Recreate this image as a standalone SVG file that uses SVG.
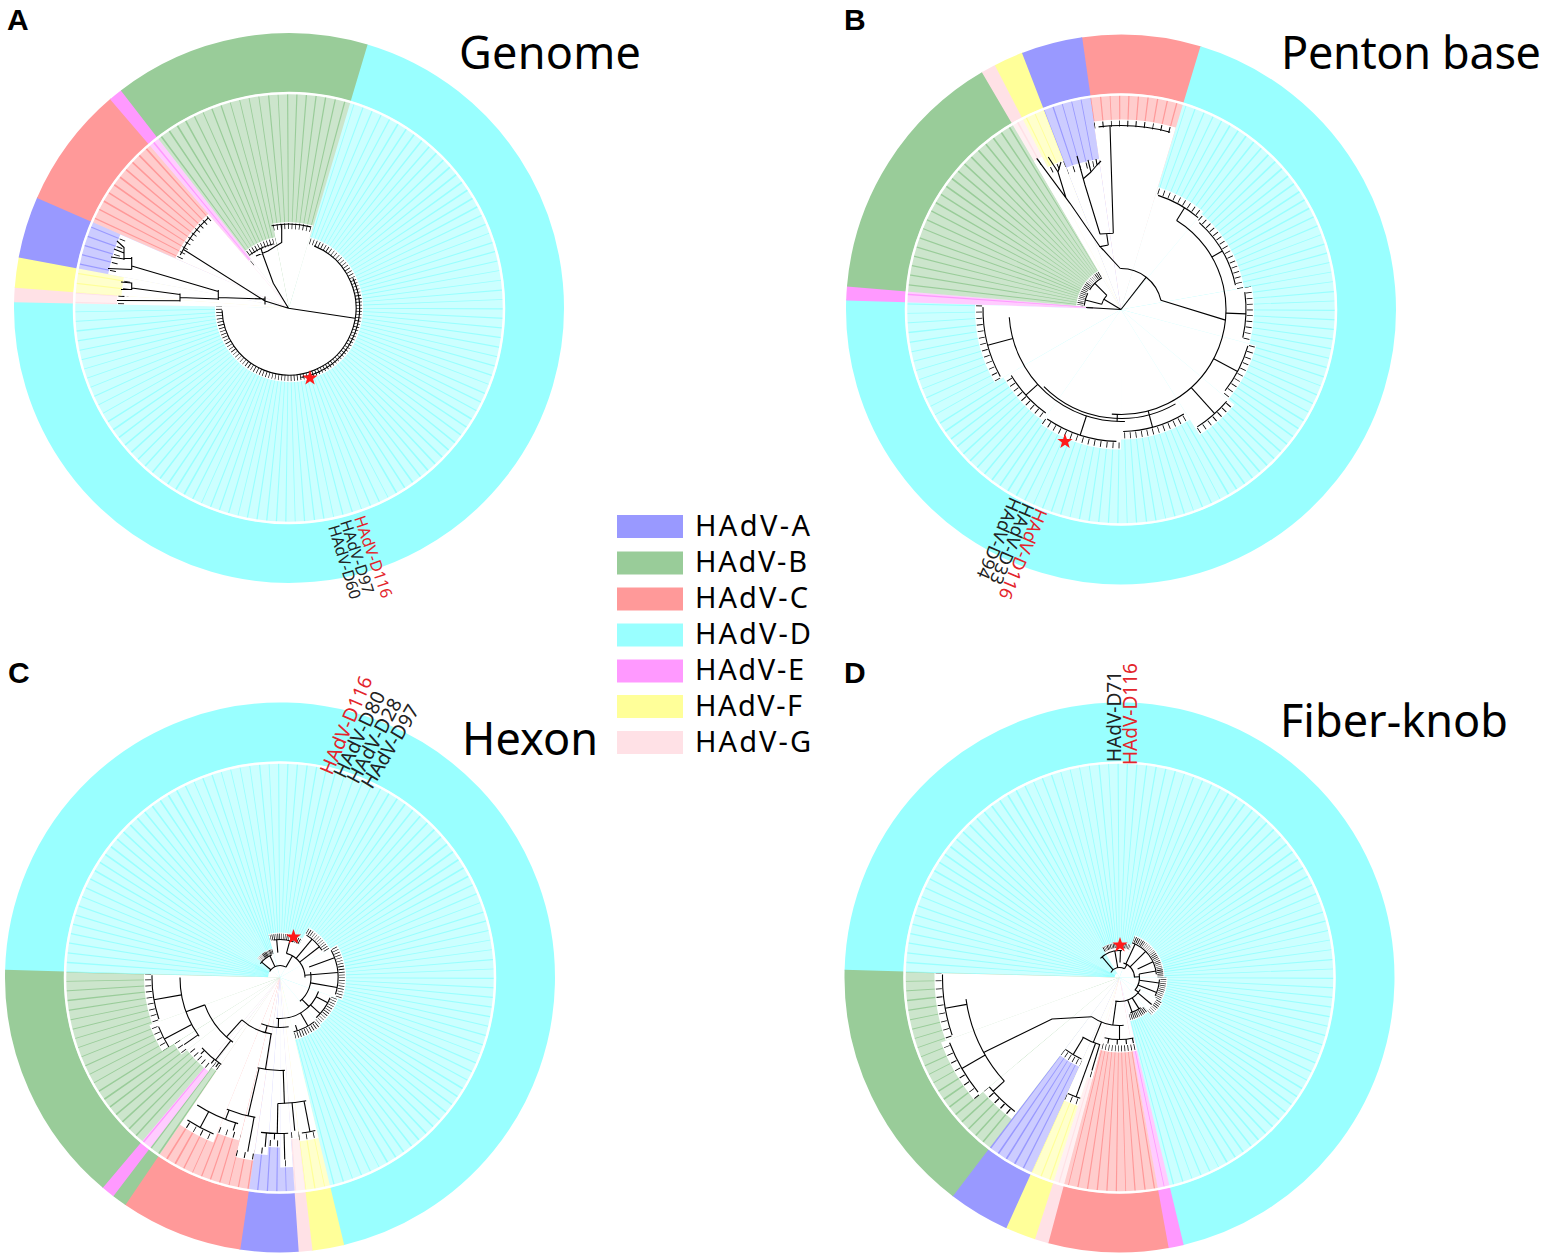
<svg xmlns="http://www.w3.org/2000/svg" xmlns:xlink="http://www.w3.org/1999/xlink" width="1548" height="1259" viewBox="0 0 1548 1259">
<style>
.rg{fill:none;stroke-width:60}
.lf{fill:none;stroke-width:216}
.ln{fill:none;stroke-width:216;stroke-dasharray:0.45 2.14}
.tk{fill:none;stroke:#000;stroke-width:216;stroke-dasharray:0.4 2.19}
.ho{fill:none;stroke:#fff}
.mk{fill:none;stroke:#fff;stroke-width:216}
.ma{fill:none;stroke:#fff;stroke-width:6}
.br{fill:none;stroke:#000;stroke-width:1.1}
.wc{fill:none;stroke:#fff;stroke-width:2.5}
.sA{stroke:#9999ff}.sB{stroke:#99cc99}.sC{stroke:#ff9999}.sD{stroke:#99ffff}.sE{stroke:#ff99ff}.sF{stroke:#ffff99}.sG{stroke:#ffe1e6}
.lA{stroke:#ccccff}.lB{stroke:#cce5cc}.lC{stroke:#ffcccc}.lD{stroke:#ccffff}.lE{stroke:#ffccff}.lF{stroke:#ffffcc}.lG{stroke:#fff0f2}
.pl{font-family:"Liberation Sans",Arial,sans-serif;font-weight:bold;font-size:30px;fill:#000}
.ti{font-family:"Noto Sans","DejaVu Sans",sans-serif;font-size:45px;fill:#000}
.lg{font-family:"Noto Sans","DejaVu Sans",sans-serif;font-size:29px;fill:#000}
.lb{font-family:"Noto Sans","DejaVu Sans",sans-serif;font-size:18px;fill:#222}
.rd{fill:#e3242b}
</style>
<defs>
<path id="star" d="M0,-8 L1.88,-2.59 L7.61,-2.47 L3.04,0.99 L4.7,6.47 L0,3.2 L-4.7,6.47 L-3.04,0.99 L-7.61,-2.47 L-1.88,-2.59 Z" fill="#ff1a1a"/>
<mask id="mAD" maskUnits="userSpaceOnUse" x="-300" y="-300" width="600" height="600"><circle r="108" class="mk" pathLength="360" stroke-dasharray="254.8 400" transform="rotate(-73.6)"/></mask>
<mask id="mAG" maskUnits="userSpaceOnUse" x="-300" y="-300" width="600" height="600"><circle r="108" class="mk" pathLength="360" stroke-dasharray="3 400" transform="rotate(181.2)"/></mask>
<mask id="mAF" maskUnits="userSpaceOnUse" x="-300" y="-300" width="600" height="600"><circle r="108" class="mk" pathLength="360" stroke-dasharray="6.4 400" transform="rotate(184.2)"/></mask>
<mask id="mAA" maskUnits="userSpaceOnUse" x="-300" y="-300" width="600" height="600"><circle r="108" class="mk" pathLength="360" stroke-dasharray="13 400" transform="rotate(190.6)"/></mask>
<mask id="mAC" maskUnits="userSpaceOnUse" x="-300" y="-300" width="600" height="600"><circle r="108" class="mk" pathLength="360" stroke-dasharray="25.8 400" transform="rotate(203.6)"/></mask>
<mask id="mAE" maskUnits="userSpaceOnUse" x="-300" y="-300" width="600" height="600"><circle r="108" class="mk" pathLength="360" stroke-dasharray="2.9 400" transform="rotate(229.4)"/></mask>
<mask id="mAB" maskUnits="userSpaceOnUse" x="-300" y="-300" width="600" height="600"><circle r="108" class="mk" pathLength="360" stroke-dasharray="54.1 400" transform="rotate(232.3)"/></mask>
<mask id="tA" maskUnits="userSpaceOnUse" x="-300" y="-300" width="600" height="600"><g class="ma">
<circle r="70" pathLength="360" stroke-dasharray="254.8 400" transform="rotate(-73.6)"/>
<circle r="168" pathLength="360" stroke-dasharray="3 400" transform="rotate(181.2)"/>
<circle r="164" pathLength="360" stroke-dasharray="6.4 400" transform="rotate(184.2)"/>
<circle r="180" pathLength="360" stroke-dasharray="13 400" transform="rotate(190.6)"/>
<circle r="120" pathLength="360" stroke-dasharray="25.8 400" transform="rotate(203.6)"/>
<circle r="58" pathLength="360" stroke-dasharray="2.9 400" transform="rotate(229.4)"/>
<circle r="68" pathLength="360" stroke-dasharray="26.7 400" transform="rotate(232.3)"/>
<circle r="82" pathLength="360" stroke-dasharray="27.4 400" transform="rotate(259)"/>
</g></mask>
<mask id="mBC" maskUnits="userSpaceOnUse" x="-300" y="-300" width="600" height="600"><circle r="108" class="mk" pathLength="360" stroke-dasharray="25.1 400" transform="rotate(-98.3)"/></mask>
<mask id="mBD" maskUnits="userSpaceOnUse" x="-300" y="-300" width="600" height="600"><circle r="108" class="mk" pathLength="360" stroke-dasharray="255.1 400" transform="rotate(-73.2)"/></mask>
<mask id="mBE" maskUnits="userSpaceOnUse" x="-300" y="-300" width="600" height="600"><circle r="108" class="mk" pathLength="360" stroke-dasharray="2.9 400" transform="rotate(181.9)"/></mask>
<mask id="mBB" maskUnits="userSpaceOnUse" x="-300" y="-300" width="600" height="600"><circle r="108" class="mk" pathLength="360" stroke-dasharray="54.8 400" transform="rotate(184.8)"/></mask>
<mask id="mBG" maskUnits="userSpaceOnUse" x="-300" y="-300" width="600" height="600"><circle r="108" class="mk" pathLength="360" stroke-dasharray="3.1 400" transform="rotate(239.6)"/></mask>
<mask id="mBF" maskUnits="userSpaceOnUse" x="-300" y="-300" width="600" height="600"><circle r="108" class="mk" pathLength="360" stroke-dasharray="6.2 400" transform="rotate(242.7)"/></mask>
<mask id="mBA" maskUnits="userSpaceOnUse" x="-300" y="-300" width="600" height="600"><circle r="108" class="mk" pathLength="360" stroke-dasharray="12.8 400" transform="rotate(248.9)"/></mask>
<mask id="tB" maskUnits="userSpaceOnUse" x="-300" y="-300" width="600" height="600"><g class="ma">
<circle r="186" pathLength="360" stroke-dasharray="25.1 400" transform="rotate(-98.3)"/>
<circle r="148" pathLength="360" stroke-dasharray="12.8 400" transform="rotate(248.9)"/>
<circle r="156" pathLength="360" stroke-dasharray="6.2 400" transform="rotate(242.7)"/>
<circle r="168" pathLength="360" stroke-dasharray="3.1 400" transform="rotate(239.6)"/>
<circle r="41" pathLength="360" stroke-dasharray="54.8 400" transform="rotate(184.8)"/>
<circle r="31" pathLength="360" stroke-dasharray="2.9 400" transform="rotate(181.9)"/>
<circle r="124" pathLength="360" stroke-dasharray="23.2 400" transform="rotate(-73.2)"/>
<circle r="121" pathLength="360" stroke-dasharray="40 400" transform="rotate(-50)"/>
<circle r="129" pathLength="360" stroke-dasharray="25 400" transform="rotate(-10)"/>
<circle r="136" pathLength="360" stroke-dasharray="25 400" transform="rotate(15)"/>
<circle r="144" pathLength="360" stroke-dasharray="18 400" transform="rotate(40)"/>
<circle r="126" pathLength="360" stroke-dasharray="32 400" transform="rotate(58)"/>
<circle r="136" pathLength="360" stroke-dasharray="35 400" transform="rotate(90)"/>
<circle r="132" pathLength="360" stroke-dasharray="25 400" transform="rotate(125)"/>
<circle r="142" pathLength="360" stroke-dasharray="31.9 400" transform="rotate(150)"/>
</g></mask>
<mask id="mCD" maskUnits="userSpaceOnUse" x="-300" y="-300" width="600" height="600"><circle r="108" class="mk" pathLength="360" stroke-dasharray="255.1 400" transform="rotate(181.4)"/></mask>
<mask id="mCF" maskUnits="userSpaceOnUse" x="-300" y="-300" width="600" height="600"><circle r="108" class="mk" pathLength="360" stroke-dasharray="6.7 400" transform="rotate(76.5)"/></mask>
<mask id="mCG" maskUnits="userSpaceOnUse" x="-300" y="-300" width="600" height="600"><circle r="108" class="mk" pathLength="360" stroke-dasharray="2.9 400" transform="rotate(83.2)"/></mask>
<mask id="mCA" maskUnits="userSpaceOnUse" x="-300" y="-300" width="600" height="600"><circle r="108" class="mk" pathLength="360" stroke-dasharray="12.2 400" transform="rotate(86.1)"/></mask>
<mask id="mCC" maskUnits="userSpaceOnUse" x="-300" y="-300" width="600" height="600"><circle r="108" class="mk" pathLength="360" stroke-dasharray="25.9 400" transform="rotate(98.3)"/></mask>
<mask id="mCE" maskUnits="userSpaceOnUse" x="-300" y="-300" width="600" height="600"><circle r="108" class="mk" pathLength="360" stroke-dasharray="2.8 400" transform="rotate(127.3)"/></mask>
<mask id="mCB" maskUnits="userSpaceOnUse" x="-300" y="-300" width="600" height="600"><circle r="108" class="mk" pathLength="360" stroke-dasharray="3.1 400" transform="rotate(124.2)"/><circle r="108" class="mk" pathLength="360" stroke-dasharray="51.3 400" transform="rotate(130.1)"/></mask>
<mask id="tC" maskUnits="userSpaceOnUse" x="-300" y="-300" width="600" height="600"><g class="ma">
<circle r="27" stroke-width="5" pathLength="360" stroke-dasharray="35 400" transform="rotate(220)"/>
<circle r="41" pathLength="360" stroke-dasharray="45 400" transform="rotate(255)"/>
<circle r="54" pathLength="360" stroke-dasharray="30 400" transform="rotate(300)"/>
<circle r="62" pathLength="360" stroke-dasharray="50 400" transform="rotate(330)"/>
<circle r="58" pathLength="360" stroke-dasharray="30 400" transform="rotate(20)"/>
<circle r="60" pathLength="360" stroke-dasharray="26.5 400" transform="rotate(50)"/>
<circle r="161" pathLength="360" stroke-dasharray="6.7 400" transform="rotate(76.5)"/>
<circle r="158" pathLength="360" stroke-dasharray="2.9 400" transform="rotate(83.2)"/>
<circle r="186" pathLength="360" stroke-dasharray="3.9 400" transform="rotate(86.1)"/>
<circle r="166" pathLength="360" stroke-dasharray="4 400" transform="rotate(90)"/>
<circle r="174" pathLength="360" stroke-dasharray="4.3 400" transform="rotate(94)"/>
<circle r="181" pathLength="360" stroke-dasharray="5.7 400" transform="rotate(98.3)"/>
<circle r="164" pathLength="360" stroke-dasharray="8 400" transform="rotate(104)"/>
<circle r="174" pathLength="360" stroke-dasharray="12.2 400" transform="rotate(112)"/>
<circle r="109" pathLength="360" stroke-dasharray="3.1 400" transform="rotate(124.2)"/>
<circle r="114" pathLength="360" stroke-dasharray="2.8 400" transform="rotate(127.3)"/>
<circle r="114" pathLength="360" stroke-dasharray="11.9 400" transform="rotate(130.1)"/>
<circle r="121" pathLength="360" stroke-dasharray="6 400" transform="rotate(142)"/>
<circle r="135" pathLength="360" stroke-dasharray="12 400" transform="rotate(148)"/>
<circle r="132" pathLength="360" stroke-dasharray="21.4 400" transform="rotate(160)"/>
</g></mask>
<mask id="mDD" maskUnits="userSpaceOnUse" x="-300" y="-300" width="600" height="600"><circle r="108" class="mk" pathLength="360" stroke-dasharray="255.1 400" transform="rotate(181.4)"/></mask>
<mask id="mDE" maskUnits="userSpaceOnUse" x="-300" y="-300" width="600" height="600"><circle r="108" class="mk" pathLength="360" stroke-dasharray="3.2 400" transform="rotate(76.5)"/></mask>
<mask id="mDC" maskUnits="userSpaceOnUse" x="-300" y="-300" width="600" height="600"><circle r="108" class="mk" pathLength="360" stroke-dasharray="25.3 400" transform="rotate(79.7)"/></mask>
<mask id="mDG" maskUnits="userSpaceOnUse" x="-300" y="-300" width="600" height="600"><circle r="108" class="mk" pathLength="360" stroke-dasharray="2.9 400" transform="rotate(105)"/></mask>
<mask id="mDF" maskUnits="userSpaceOnUse" x="-300" y="-300" width="600" height="600"><circle r="108" class="mk" pathLength="360" stroke-dasharray="6.4 400" transform="rotate(107.9)"/></mask>
<mask id="mDA" maskUnits="userSpaceOnUse" x="-300" y="-300" width="600" height="600"><circle r="108" class="mk" pathLength="360" stroke-dasharray="13 400" transform="rotate(114.3)"/></mask>
<mask id="mDB" maskUnits="userSpaceOnUse" x="-300" y="-300" width="600" height="600"><circle r="108" class="mk" pathLength="360" stroke-dasharray="54.1 400" transform="rotate(127.3)"/></mask>
<mask id="tD" maskUnits="userSpaceOnUse" x="-300" y="-300" width="600" height="600"><g class="ma">
<circle r="32" stroke-width="5" pathLength="360" stroke-dasharray="50 400" transform="rotate(240)"/>
<circle r="41" pathLength="360" stroke-dasharray="70 400" transform="rotate(290)"/>
<circle r="44" pathLength="360" stroke-dasharray="30 400" transform="rotate(0)"/>
<circle r="46" pathLength="360" stroke-dasharray="20 400" transform="rotate(30)"/>
<circle r="41" pathLength="360" stroke-dasharray="26.5 400" transform="rotate(50)"/>
<circle r="71" pathLength="360" stroke-dasharray="3.2 400" transform="rotate(76.5)"/>
<circle r="71" pathLength="360" stroke-dasharray="25.3 400" transform="rotate(79.7)"/>
<circle r="101" pathLength="360" stroke-dasharray="2.9 400" transform="rotate(105)"/>
<circle r="131" pathLength="360" stroke-dasharray="6.4 400" transform="rotate(107.9)"/>
<circle r="94" pathLength="360" stroke-dasharray="13 400" transform="rotate(114.3)"/>
<circle r="174" pathLength="360" stroke-dasharray="12.7 400" transform="rotate(127.3)"/>
<circle r="186" pathLength="360" stroke-dasharray="20 400" transform="rotate(140)"/>
<circle r="181" pathLength="360" stroke-dasharray="21.4 400" transform="rotate(160)"/>
</g></mask>
</defs>
<rect x="0" y="0" width="1548" height="1259" fill="#fff"/>

<g id="panel-A">
<g transform="translate(289,308)">
<g id="A-ring">
<circle r="245" class="rg sD" pathLength="360" stroke-dasharray="255 400" transform="rotate(-73.6)"/>
<circle r="245" class="rg sG" pathLength="360" stroke-dasharray="3.2 400" transform="rotate(181.2)"/>
<circle r="245" class="rg sF" pathLength="360" stroke-dasharray="6.6 400" transform="rotate(184.2)"/>
<circle r="245" class="rg sA" pathLength="360" stroke-dasharray="13.2 400" transform="rotate(190.6)"/>
<circle r="245" class="rg sC" pathLength="360" stroke-dasharray="26 400" transform="rotate(203.6)"/>
<circle r="245" class="rg sE" pathLength="360" stroke-dasharray="3.1 400" transform="rotate(229.4)"/>
<circle r="245" class="rg sB" pathLength="360" stroke-dasharray="54.3 400" transform="rotate(232.3)"/>
</g>
<g id="A-light">
<circle r="108" class="lf lD" pathLength="360" stroke-dasharray="255 400" transform="rotate(-73.6)"/>
<circle r="108" class="lf lG" pathLength="360" stroke-dasharray="3.2 400" transform="rotate(181.2)"/>
<circle r="108" class="lf lF" pathLength="360" stroke-dasharray="6.6 400" transform="rotate(184.2)"/>
<circle r="108" class="lf lA" pathLength="360" stroke-dasharray="13.2 400" transform="rotate(190.6)"/>
<circle r="108" class="lf lC" pathLength="360" stroke-dasharray="26 400" transform="rotate(203.6)"/>
<circle r="108" class="lf lE" pathLength="360" stroke-dasharray="3.1 400" transform="rotate(229.4)"/>
<circle r="108" class="lf lB" pathLength="360" stroke-dasharray="54.3 400" transform="rotate(232.3)"/>
</g>
<g id="A-leaflines">
<circle r="108" class="ln sD" pathLength="360" mask="url(#mAD)"/>
<circle r="108" class="ln sG" pathLength="360" mask="url(#mAG)"/>
<circle r="108" class="ln sF" pathLength="360" mask="url(#mAF)"/>
<circle r="108" class="ln sA" pathLength="360" mask="url(#mAA)"/>
<circle r="108" class="ln sC" pathLength="360" mask="url(#mAC)"/>
<circle r="108" class="ln sE" pathLength="360" mask="url(#mAE)"/>
<circle r="108" class="ln sB" pathLength="360" mask="url(#mAB)"/>
</g>
<g id="A-holes" class="ho">
<circle r="37" stroke-width="74" pathLength="360" stroke-dasharray="254.8 400" transform="rotate(-73.6)"/>
<circle r="86" stroke-width="172" pathLength="360" stroke-dasharray="3 400" transform="rotate(181.2)"/>
<circle r="84" stroke-width="168" pathLength="360" stroke-dasharray="6.4 400" transform="rotate(184.2)"/>
<circle r="92" stroke-width="184" pathLength="360" stroke-dasharray="13 400" transform="rotate(190.6)"/>
<circle r="62" stroke-width="124" pathLength="360" stroke-dasharray="25.8 400" transform="rotate(203.6)"/>
<circle r="31" stroke-width="62" pathLength="360" stroke-dasharray="2.9 400" transform="rotate(229.4)"/>
<circle r="36" stroke-width="72" pathLength="360" stroke-dasharray="26.7 400" transform="rotate(232.3)"/>
<circle r="43" stroke-width="86" pathLength="360" stroke-dasharray="27.4 400" transform="rotate(259)"/>
</g>
<circle r="215" class="wc"/>
<circle r="108" class="tk" pathLength="360" mask="url(#tA)"/>
<g id="A-tree-arcs" class="br">
<circle r="67" pathLength="360" stroke-dasharray="246 400" transform="rotate(-68)"/>
<circle r="70.5" pathLength="360" stroke-dasharray="105 400" transform="rotate(-25)"/>
<circle r="121" pathLength="360" stroke-dasharray="22 400" transform="rotate(206)"/>
<circle r="84" pathLength="360" stroke-dasharray="27 400" transform="rotate(258)"/>
<circle r="66" pathLength="360" stroke-dasharray="22 400" transform="rotate(234)"/>
</g>
</g>
<path id="A-tree" class="br" d="M288.5,308.3 L355,318.3 M288.5,308.3 L265,301 M265,296.5 V304.5 M265,301 L183.5,249.5 M265,299 L218.3,297.5 M218.3,290 V300 M218.3,291.5 L131.7,266 M218.3,299 L180,297.5 M180,293.5 V301.5 M180,294.5 L131.7,288 M131.7,282.5 V290 M131.7,283 L121,282 M131.7,289.5 L121,289.5 M180,300.7 L117,300.5 M131.7,257 V269.5 M131.7,269.5 L108,268.5 M131.7,258.5 L124,258.5 M124,247 V260 M124,259 L111,257 M124,253 L114,249 M124,247.5 L117,241 M288.5,308.3 L273.3,283.3 L262.7,254.3 M256,256 L268,251 L281.7,242.5 V224.5 M262.7,254.3 L261,248.2"/>
<use href="#star" xlink:href="#star" x="310" y="378"/>
<text class="pl" x="7" y="30">A</text>
<text class="ti" x="459" y="69" textLength="182">Genome</text>
<text class="lb rd" style="font-size:16px" transform="translate(354,518) rotate(71)">HAdV-D116</text>
<text class="lb" style="font-size:16px" transform="translate(340,522) rotate(72)">HAdV-D97</text>
<text class="lb" style="font-size:16px" transform="translate(328,527) rotate(73)">HAdV-D60</text>
</g>

<g id="panel-B">
<g transform="translate(1121,309.5)">
<g id="B-ring">
<circle r="245" class="rg sC" pathLength="360" stroke-dasharray="25.3 400" transform="rotate(-98.3)"/>
<circle r="245" class="rg sD" pathLength="360" stroke-dasharray="255.3 400" transform="rotate(-73.2)"/>
<circle r="245" class="rg sE" pathLength="360" stroke-dasharray="3.1 400" transform="rotate(181.9)"/>
<circle r="245" class="rg sB" pathLength="360" stroke-dasharray="55 400" transform="rotate(184.8)"/>
<circle r="245" class="rg sG" pathLength="360" stroke-dasharray="3.3 400" transform="rotate(239.6)"/>
<circle r="245" class="rg sF" pathLength="360" stroke-dasharray="6.4 400" transform="rotate(242.7)"/>
<circle r="245" class="rg sA" pathLength="360" stroke-dasharray="13 400" transform="rotate(248.9)"/>
</g>
<g id="B-light">
<circle r="108" class="lf lC" pathLength="360" stroke-dasharray="25.3 400" transform="rotate(-98.3)"/>
<circle r="108" class="lf lD" pathLength="360" stroke-dasharray="255.3 400" transform="rotate(-73.2)"/>
<circle r="108" class="lf lE" pathLength="360" stroke-dasharray="3.1 400" transform="rotate(181.9)"/>
<circle r="108" class="lf lB" pathLength="360" stroke-dasharray="55 400" transform="rotate(184.8)"/>
<circle r="108" class="lf lG" pathLength="360" stroke-dasharray="3.3 400" transform="rotate(239.6)"/>
<circle r="108" class="lf lF" pathLength="360" stroke-dasharray="6.4 400" transform="rotate(242.7)"/>
<circle r="108" class="lf lA" pathLength="360" stroke-dasharray="13 400" transform="rotate(248.9)"/>
</g>
<g id="B-leaflines">
<circle r="108" class="ln sC" pathLength="360" mask="url(#mBC)"/>
<circle r="108" class="ln sD" pathLength="360" mask="url(#mBD)"/>
<circle r="108" class="ln sE" pathLength="360" mask="url(#mBE)"/>
<circle r="108" class="ln sB" pathLength="360" mask="url(#mBB)"/>
<circle r="108" class="ln sG" pathLength="360" mask="url(#mBG)"/>
<circle r="108" class="ln sF" pathLength="360" mask="url(#mBF)"/>
<circle r="108" class="ln sA" pathLength="360" mask="url(#mBA)"/>
</g>
<g id="B-holes" class="ho">
<circle r="95" stroke-width="190" pathLength="360" stroke-dasharray="25.1 400" transform="rotate(-98.3)"/>
<circle r="76" stroke-width="152" pathLength="360" stroke-dasharray="12.8 400" transform="rotate(248.9)"/>
<circle r="80" stroke-width="160" pathLength="360" stroke-dasharray="6.2 400" transform="rotate(242.7)"/>
<circle r="86" stroke-width="172" pathLength="360" stroke-dasharray="3.1 400" transform="rotate(239.6)"/>
<circle r="22.5" stroke-width="45" pathLength="360" stroke-dasharray="54.8 400" transform="rotate(184.8)"/>
<circle r="17.5" stroke-width="35" pathLength="360" stroke-dasharray="2.9 400" transform="rotate(181.9)"/>
<circle r="64" stroke-width="128" pathLength="360" stroke-dasharray="23.2 400" transform="rotate(-73.2)"/>
<circle r="62.5" stroke-width="125" pathLength="360" stroke-dasharray="40 400" transform="rotate(-50)"/>
<circle r="66.5" stroke-width="133" pathLength="360" stroke-dasharray="25 400" transform="rotate(-10)"/>
<circle r="70" stroke-width="140" pathLength="360" stroke-dasharray="25 400" transform="rotate(15)"/>
<circle r="74" stroke-width="148" pathLength="360" stroke-dasharray="18 400" transform="rotate(40)"/>
<circle r="65" stroke-width="130" pathLength="360" stroke-dasharray="32 400" transform="rotate(58)"/>
<circle r="70" stroke-width="140" pathLength="360" stroke-dasharray="35 400" transform="rotate(90)"/>
<circle r="68" stroke-width="136" pathLength="360" stroke-dasharray="25 400" transform="rotate(125)"/>
<circle r="73" stroke-width="146" pathLength="360" stroke-dasharray="31.9 400" transform="rotate(150)"/>
</g>
<circle r="215" class="wc"/>
<circle r="108" class="tk" pathLength="360" mask="url(#tB)"/>
<g id="B-tree-polar" class="br">
<line x2="41" transform="rotate(-52)"/>
<circle r="41" pathLength="360" stroke-dasharray="78 400" transform="rotate(-91)"/>
<circle r="184" pathLength="360" stroke-dasharray="22.5 400" transform="rotate(-97)"/>
<circle r="105" pathLength="360" stroke-dasharray="153 400" transform="rotate(-58)"/>
<line x1="105" x2="120" transform="rotate(-58)"/>
<circle r="120" pathLength="360" stroke-dasharray="22 400" transform="rotate(-72)"/>
<line x1="105" x2="117" transform="rotate(-30)"/>
<circle r="117" pathLength="360" stroke-dasharray="36 400" transform="rotate(-48)"/>
<line x1="105" x2="125" transform="rotate(2)"/>
<circle r="125" pathLength="360" stroke-dasharray="21 400" transform="rotate(-8)"/>
<line x1="105" x2="132" transform="rotate(28)"/>
<circle r="132" pathLength="360" stroke-dasharray="22 400" transform="rotate(16)"/>
<line x1="105" x2="140" transform="rotate(48)"/>
<circle r="140" pathLength="360" stroke-dasharray="16 400" transform="rotate(41)"/>
<line x1="105" x2="122" transform="rotate(75)"/>
<circle r="122" pathLength="360" stroke-dasharray="30 400" transform="rotate(59)"/>
<line x1="105" x2="112" transform="rotate(92)"/>
<circle r="112" pathLength="360" stroke-dasharray="88 400" transform="rotate(88)"/>
<circle r="109" pathLength="360" stroke-dasharray="75 400" transform="rotate(60)"/>
<line x1="112" x2="132" transform="rotate(108)"/>
<circle r="132" pathLength="360" stroke-dasharray="32 400" transform="rotate(92)"/>
<line x1="112" x2="128" transform="rotate(138)"/>
<circle r="128" pathLength="360" stroke-dasharray="23 400" transform="rotate(126)"/>
<line x1="112" x2="138" transform="rotate(165)"/>
<circle r="138" pathLength="360" stroke-dasharray="30 400" transform="rotate(151)"/>
<line x2="20" transform="rotate(211)"/>
<circle r="20" pathLength="360" stroke-dasharray="30 400" transform="rotate(195)"/>
<line x1="20" x2="37" transform="rotate(195)"/>
<circle r="37" pathLength="360" stroke-dasharray="20 400" transform="rotate(186)"/>
<line x1="20" x2="37" transform="rotate(225)"/>
<circle r="37" pathLength="360" stroke-dasharray="27 400" transform="rotate(212)"/>
<line x2="35" transform="rotate(183.3)"/>
</g>
</g>
<path id="B-tree" class="br" d="M1120.3,268.5 L1103.3,250 L1100,246.7 L1108.3,245 M1100,246.7 L1070,203.3 M1108.3,245 L1106.7,234 M1100,234 L1113.3,233.3 M1100,234 L1085,185 M1113.3,233.3 L1110,125.8 M1085,185 L1077,156 M1083,179 L1091,172 M1091,172 L1088,160 M1091,172 L1097,165 M1097,165 L1096,159 M1097,165 L1101,161 M1070,203.3 L1036.7,158.3 M1066,198 L1058,172 M1058,172 L1048.3,157 M1058,172 L1061,162 M1160.9,300.3 L1225.5,320.1"/>
<use href="#star" xlink:href="#star" x="1065" y="441.5"/>
<text class="pl" x="844" y="30">B</text>
<text class="ti" x="1281" y="69" textLength="260">Penton base</text>
<text class="lb rd" transform="translate(1036,507) rotate(113)">HAdV-D116</text>
<text class="lb" transform="translate(1023,501.5) rotate(113)">HAdV-D33</text>
<text class="lb" transform="translate(1010,496) rotate(113)">HAdV-D94</text>
</g>

<g id="panel-C">
<g transform="translate(280,977.5)">
<g id="C-ring">
<circle r="245" class="rg sD" pathLength="360" stroke-dasharray="255.3 400" transform="rotate(181.4)"/>
<circle r="245" class="rg sF" pathLength="360" stroke-dasharray="6.9 400" transform="rotate(76.5)"/>
<circle r="245" class="rg sG" pathLength="360" stroke-dasharray="3.1 400" transform="rotate(83.2)"/>
<circle r="245" class="rg sA" pathLength="360" stroke-dasharray="12.4 400" transform="rotate(86.1)"/>
<circle r="245" class="rg sC" pathLength="360" stroke-dasharray="26.1 400" transform="rotate(98.3)"/>
<circle r="245" class="rg sB" pathLength="360" stroke-dasharray="3.3 400" transform="rotate(124.2)"/>
<circle r="245" class="rg sE" pathLength="360" stroke-dasharray="3 400" transform="rotate(127.3)"/>
<circle r="245" class="rg sB" pathLength="360" stroke-dasharray="51.5 400" transform="rotate(130.1)"/>
</g>
<g id="C-light">
<circle r="108" class="lf lD" pathLength="360" stroke-dasharray="255.3 400" transform="rotate(181.4)"/>
<circle r="108" class="lf lF" pathLength="360" stroke-dasharray="6.9 400" transform="rotate(76.5)"/>
<circle r="108" class="lf lG" pathLength="360" stroke-dasharray="3.1 400" transform="rotate(83.2)"/>
<circle r="108" class="lf lA" pathLength="360" stroke-dasharray="12.4 400" transform="rotate(86.1)"/>
<circle r="108" class="lf lC" pathLength="360" stroke-dasharray="26.1 400" transform="rotate(98.3)"/>
<circle r="108" class="lf lB" pathLength="360" stroke-dasharray="3.3 400" transform="rotate(124.2)"/>
<circle r="108" class="lf lE" pathLength="360" stroke-dasharray="3 400" transform="rotate(127.3)"/>
<circle r="108" class="lf lB" pathLength="360" stroke-dasharray="51.5 400" transform="rotate(130.1)"/>
</g>
<g id="C-leaflines">
<circle r="108" class="ln sD" pathLength="360" mask="url(#mCD)"/>
<circle r="108" class="ln sF" pathLength="360" mask="url(#mCF)"/>
<circle r="108" class="ln sG" pathLength="360" mask="url(#mCG)"/>
<circle r="108" class="ln sA" pathLength="360" mask="url(#mCA)"/>
<circle r="108" class="ln sC" pathLength="360" mask="url(#mCC)"/>
<circle r="108" class="ln sE" pathLength="360" mask="url(#mCE)"/>
<circle r="108" class="ln sB" pathLength="360" mask="url(#mCB)"/>
</g>
<g id="C-holes" class="ho">
<circle r="6" stroke-width="12" pathLength="360" stroke-dasharray="38.6 400" transform="rotate(181.4)"/>
<circle r="15" stroke-width="30" pathLength="360" stroke-dasharray="35 400" transform="rotate(220)"/>
<circle r="22.5" stroke-width="45" pathLength="360" stroke-dasharray="45 400" transform="rotate(255)"/>
<circle r="29" stroke-width="58" pathLength="360" stroke-dasharray="30 400" transform="rotate(300)"/>
<circle r="33" stroke-width="66" pathLength="360" stroke-dasharray="50 400" transform="rotate(330)"/>
<circle r="31" stroke-width="62" pathLength="360" stroke-dasharray="30 400" transform="rotate(20)"/>
<circle r="32" stroke-width="64" pathLength="360" stroke-dasharray="26.5 400" transform="rotate(50)"/>
<circle r="82.5" stroke-width="165" pathLength="360" stroke-dasharray="6.7 400" transform="rotate(76.5)"/>
<circle r="81" stroke-width="162" pathLength="360" stroke-dasharray="2.9 400" transform="rotate(83.2)"/>
<circle r="95" stroke-width="190" pathLength="360" stroke-dasharray="3.9 400" transform="rotate(86.1)"/>
<circle r="85" stroke-width="170" pathLength="360" stroke-dasharray="4 400" transform="rotate(90)"/>
<circle r="89" stroke-width="178" pathLength="360" stroke-dasharray="4.3 400" transform="rotate(94)"/>
<circle r="92.5" stroke-width="185" pathLength="360" stroke-dasharray="5.7 400" transform="rotate(98.3)"/>
<circle r="84" stroke-width="168" pathLength="360" stroke-dasharray="8 400" transform="rotate(104)"/>
<circle r="89" stroke-width="178" pathLength="360" stroke-dasharray="12.2 400" transform="rotate(112)"/>
<circle r="56.5" stroke-width="113" pathLength="360" stroke-dasharray="3.1 400" transform="rotate(124.2)"/>
<circle r="59" stroke-width="118" pathLength="360" stroke-dasharray="2.8 400" transform="rotate(127.3)"/>
<circle r="59" stroke-width="118" pathLength="360" stroke-dasharray="11.9 400" transform="rotate(130.1)"/>
<circle r="62.5" stroke-width="125" pathLength="360" stroke-dasharray="6 400" transform="rotate(142)"/>
<circle r="69.5" stroke-width="139" pathLength="360" stroke-dasharray="12 400" transform="rotate(148)"/>
<circle r="68" stroke-width="136" pathLength="360" stroke-dasharray="21.4 400" transform="rotate(160)"/>
</g>
<circle r="215" class="wc"/>
<circle r="108" class="tk" pathLength="360" mask="url(#tC)"/>
<g id="C-tree" class="br">
<circle r="12" pathLength="360" stroke-dasharray="90 400" transform="rotate(-150)"/>
<line x1="12" x2="25" transform="rotate(-60)"/>
<circle r="25" pathLength="360" stroke-dasharray="75 400" transform="rotate(-75)"/>
<line x1="25" x2="31" transform="rotate(-5)"/>
<circle r="31" pathLength="360" stroke-dasharray="60 400" transform="rotate(-10)"/>
<line x1="31" x2="41" transform="rotate(45)"/>
<circle r="41" pathLength="360" stroke-dasharray="75 400" transform="rotate(20)"/>
<line x1="41" x2="50" transform="rotate(92)"/>
<circle r="50" pathLength="360" stroke-dasharray="32 400" transform="rotate(80)"/>
<line x1="50" x2="57" transform="rotate(105)"/>
<circle r="57" pathLength="360" stroke-dasharray="34 400" transform="rotate(98)"/>
<line x1="12" x2="24" transform="rotate(-140)"/>
<line x1="12" x2="24" transform="rotate(-115)"/>
<circle r="24" pathLength="360" stroke-dasharray="35 400" transform="rotate(-145)"/>
<line x1="25" x2="38" transform="rotate(-95)"/>
<line x1="25" x2="38" transform="rotate(-75)"/>
<circle r="38" pathLength="360" stroke-dasharray="30 400" transform="rotate(-100)"/>
<line x1="25" x2="50" transform="rotate(-50)"/>
<line x1="25" x2="50" transform="rotate(-38)"/>
<circle r="50" pathLength="360" stroke-dasharray="25 400" transform="rotate(-58)"/>
<line x1="31" x2="58" transform="rotate(-20)"/>
<line x1="31" x2="58" transform="rotate(-5)"/>
<line x1="31" x2="58" transform="rotate(10)"/>
<circle r="58" pathLength="360" stroke-dasharray="45 400" transform="rotate(-28)"/>
<line x1="41" x2="54" transform="rotate(28)"/>
<line x1="41" x2="54" transform="rotate(42)"/>
<circle r="54" pathLength="360" stroke-dasharray="26 400" transform="rotate(22)"/>
<line x1="41" x2="56" transform="rotate(60)"/>
<line x1="50" x2="56" transform="rotate(72)"/>
<circle r="56" pathLength="360" stroke-dasharray="24 400" transform="rotate(52)"/>
<line x1="57" x2="93" transform="rotate(99)"/>
<circle r="93" pathLength="360" stroke-dasharray="17 400" transform="rotate(87)"/>
<line x1="93" x2="142" transform="rotate(103)"/>
<circle r="142" pathLength="360" stroke-dasharray="12 400" transform="rotate(100)"/>
<line x1="142" x2="177" transform="rotate(100.5)"/>
<line x1="142" x2="152" transform="rotate(111)"/>
<circle r="152" pathLength="360" stroke-dasharray="17 400" transform="rotate(106)"/>
<line x1="152" x2="160" transform="rotate(107)"/>
<line x1="152" x2="170" transform="rotate(118)"/>
<circle r="170" pathLength="360" stroke-dasharray="10 400" transform="rotate(113)"/>
<line x1="93" x2="126" transform="rotate(88)"/>
<circle r="126" pathLength="360" stroke-dasharray="13 400" transform="rotate(78)"/>
<line x1="126" x2="156" transform="rotate(91)"/>
<circle r="156" pathLength="360" stroke-dasharray="10 400" transform="rotate(87)"/>
<line x1="156" x2="182" transform="rotate(88.5)"/>
<line x1="156" x2="170" transform="rotate(95)"/>
<line x1="156" x2="162" transform="rotate(92)"/>
<line x1="126" x2="157" transform="rotate(79)"/>
<circle r="157" pathLength="360" stroke-dasharray="5 400" transform="rotate(77)"/>
<line x1="126" x2="154" transform="rotate(84.5)"/>
<line x1="57" x2="80" transform="rotate(132)"/>
<circle r="80" pathLength="360" stroke-dasharray="34 400" transform="rotate(126)"/>
<line x1="80" x2="105" transform="rotate(128)"/>
<circle r="105" pathLength="360" stroke-dasharray="14 400" transform="rotate(124)"/>
<line x1="105" x2="110" transform="rotate(125.7)"/>
<line x1="105" x2="110" transform="rotate(128.7)"/>
<line x1="105" x2="110" transform="rotate(136)"/>
<line x1="80" x2="100" transform="rotate(160)"/>
<circle r="100" pathLength="360" stroke-dasharray="36 400" transform="rotate(144)"/>
<line x1="100" x2="117" transform="rotate(145)"/>
<line x1="100" x2="131" transform="rotate(152)"/>
<circle r="131" pathLength="360" stroke-dasharray="10 400" transform="rotate(148)"/>
<line x1="100" x2="128" transform="rotate(170)"/>
<circle r="128" pathLength="360" stroke-dasharray="20 400" transform="rotate(161)"/>
</g>
</g>
<use href="#star" xlink:href="#star" x="293.5" y="937"/>
<text class="pl" x="8" y="683">C</text>
<text class="ti" x="462" y="755" textLength="136">Hexon</text>
<text class="lb rd" style="font-size:19.5px" transform="translate(332,776) rotate(-67)">HAdV-D116</text>
<text class="lb" style="font-size:19.5px" transform="translate(345,779.5) rotate(-64)">HAdV-D80</text>
<text class="lb" style="font-size:19.5px" transform="translate(358,785) rotate(-61.5)">HAdV-D28</text>
<text class="lb" style="font-size:19.5px" transform="translate(372,790) rotate(-59)">HAdV-D97</text>
</g>

<g id="panel-D">
<g transform="translate(1119.5,977.5)">
<g id="D-ring">
<circle r="245" class="rg sD" pathLength="360" stroke-dasharray="255.3 400" transform="rotate(181.4)"/>
<circle r="245" class="rg sE" pathLength="360" stroke-dasharray="3.4 400" transform="rotate(76.5)"/>
<circle r="245" class="rg sC" pathLength="360" stroke-dasharray="25.5 400" transform="rotate(79.7)"/>
<circle r="245" class="rg sG" pathLength="360" stroke-dasharray="3.1 400" transform="rotate(105)"/>
<circle r="245" class="rg sF" pathLength="360" stroke-dasharray="6.6 400" transform="rotate(107.9)"/>
<circle r="245" class="rg sA" pathLength="360" stroke-dasharray="13.2 400" transform="rotate(114.3)"/>
<circle r="245" class="rg sB" pathLength="360" stroke-dasharray="54.3 400" transform="rotate(127.3)"/>
</g>
<g id="D-light">
<circle r="108" class="lf lD" pathLength="360" stroke-dasharray="255.3 400" transform="rotate(181.4)"/>
<circle r="108" class="lf lE" pathLength="360" stroke-dasharray="3.4 400" transform="rotate(76.5)"/>
<circle r="108" class="lf lC" pathLength="360" stroke-dasharray="25.5 400" transform="rotate(79.7)"/>
<circle r="108" class="lf lG" pathLength="360" stroke-dasharray="3.1 400" transform="rotate(105)"/>
<circle r="108" class="lf lF" pathLength="360" stroke-dasharray="6.6 400" transform="rotate(107.9)"/>
<circle r="108" class="lf lA" pathLength="360" stroke-dasharray="13.2 400" transform="rotate(114.3)"/>
<circle r="108" class="lf lB" pathLength="360" stroke-dasharray="54.3 400" transform="rotate(127.3)"/>
</g>
<g id="D-leaflines">
<circle r="108" class="ln sD" pathLength="360" mask="url(#mDD)"/>
<circle r="108" class="ln sE" pathLength="360" mask="url(#mDE)"/>
<circle r="108" class="ln sC" pathLength="360" mask="url(#mDC)"/>
<circle r="108" class="ln sG" pathLength="360" mask="url(#mDG)"/>
<circle r="108" class="ln sF" pathLength="360" mask="url(#mDF)"/>
<circle r="108" class="ln sA" pathLength="360" mask="url(#mDA)"/>
<circle r="108" class="ln sB" pathLength="360" mask="url(#mDB)"/>
</g>
<g id="D-holes" class="ho">
<circle r="2.5" stroke-width="5" pathLength="360" stroke-dasharray="58.6 400" transform="rotate(181.4)"/>
<circle r="17.5" stroke-width="35" pathLength="360" stroke-dasharray="50 400" transform="rotate(240)"/>
<circle r="22.5" stroke-width="45" pathLength="360" stroke-dasharray="70 400" transform="rotate(290)"/>
<circle r="24" stroke-width="48" pathLength="360" stroke-dasharray="30 400" transform="rotate(0)"/>
<circle r="25" stroke-width="50" pathLength="360" stroke-dasharray="20 400" transform="rotate(30)"/>
<circle r="22.5" stroke-width="45" pathLength="360" stroke-dasharray="26.5 400" transform="rotate(50)"/>
<circle r="37.5" stroke-width="75" pathLength="360" stroke-dasharray="3.2 400" transform="rotate(76.5)"/>
<circle r="37.5" stroke-width="75" pathLength="360" stroke-dasharray="25.3 400" transform="rotate(79.7)"/>
<circle r="52.5" stroke-width="105" pathLength="360" stroke-dasharray="2.9 400" transform="rotate(105)"/>
<circle r="67.5" stroke-width="135" pathLength="360" stroke-dasharray="6.4 400" transform="rotate(107.9)"/>
<circle r="49" stroke-width="98" pathLength="360" stroke-dasharray="13 400" transform="rotate(114.3)"/>
<circle r="89" stroke-width="178" pathLength="360" stroke-dasharray="12.7 400" transform="rotate(127.3)"/>
<circle r="95" stroke-width="190" pathLength="360" stroke-dasharray="20 400" transform="rotate(140)"/>
<circle r="92.5" stroke-width="185" pathLength="360" stroke-dasharray="21.4 400" transform="rotate(160)"/>
</g>
<circle r="215" class="wc"/>
<circle r="108" class="tk" pathLength="360" mask="url(#tD)"/>
<g id="D-tree" class="br">
<circle r="10" pathLength="360" stroke-dasharray="90 400" transform="rotate(-150)"/>
<line x1="10" x2="15" transform="rotate(-60)"/>
<circle r="15" pathLength="360" stroke-dasharray="75 400" transform="rotate(-75)"/>
<line x1="15" x2="20" transform="rotate(-2)"/>
<circle r="20" pathLength="360" stroke-dasharray="50 400" transform="rotate(-10)"/>
<line x1="20" x2="24" transform="rotate(38)"/>
<circle r="24" pathLength="360" stroke-dasharray="70 400" transform="rotate(30)"/>
<line x1="24" x2="48" transform="rotate(98)"/>
<circle r="48" pathLength="360" stroke-dasharray="40 400" transform="rotate(85)"/>
<line x1="10" x2="27" transform="rotate(-130)"/>
<line x1="10" x2="27" transform="rotate(-100)"/>
<line x1="15" x2="27" transform="rotate(-88)"/>
<circle r="27" pathLength="360" stroke-dasharray="50 400" transform="rotate(-135)"/>
<line x1="15" x2="37" transform="rotate(-65)"/>
<line x1="15" x2="37" transform="rotate(-45)"/>
<line x1="20" x2="37" transform="rotate(-25)"/>
<line x1="20" x2="37" transform="rotate(-10)"/>
<circle r="37" pathLength="360" stroke-dasharray="65 400" transform="rotate(-70)"/>
<line x1="20" x2="40" transform="rotate(8)"/>
<line x1="20" x2="40" transform="rotate(22)"/>
<circle r="40" pathLength="360" stroke-dasharray="24 400" transform="rotate(3)"/>
<line x1="24" x2="42" transform="rotate(40)"/>
<line x1="24" x2="37" transform="rotate(58)"/>
<line x1="24" x2="37" transform="rotate(70)"/>
<circle r="37" pathLength="360" stroke-dasharray="18 400" transform="rotate(55)"/>
<line x1="48" x2="62" transform="rotate(90)"/>
<circle r="62" pathLength="360" stroke-dasharray="27 400" transform="rotate(77)"/>
<line x1="62" x2="67" transform="rotate(78)"/>
<line x1="62" x2="67" transform="rotate(84)"/>
<line x1="62" x2="67" transform="rotate(92)"/>
<line x1="62" x2="67" transform="rotate(100)"/>
<line x1="48" x2="70" transform="rotate(112)"/>
<circle r="70" pathLength="360" stroke-dasharray="16 400" transform="rotate(106)"/>
<line x1="70" x2="90" transform="rotate(121)"/>
<circle r="90" pathLength="360" stroke-dasharray="12 400" transform="rotate(115)"/>
<line x1="70" x2="127" transform="rotate(110)"/>
<circle r="127" pathLength="360" stroke-dasharray="6 400" transform="rotate(108)"/>
<line x1="70" x2="97" transform="rotate(106.5)"/>
<circle r="155" pathLength="360" stroke-dasharray="34 400" transform="rotate(138)"/>
<line x1="155" x2="170" transform="rotate(138)"/>
<circle r="170" pathLength="360" stroke-dasharray="12 400" transform="rotate(128)"/>
<line x1="155" x2="182" transform="rotate(150)"/>
<circle r="182" pathLength="360" stroke-dasharray="18 400" transform="rotate(141)"/>
<line x1="155" x2="177" transform="rotate(170)"/>
<circle r="177" pathLength="360" stroke-dasharray="20 400" transform="rotate(161)"/>
</g>
</g>
<path id="D-tree-abs" class="br" d="M1092,1016.8 L1052,1019 L983.6,1052.6"/>
<use href="#star" xlink:href="#star" x="1120" y="945"/>
<text class="pl" x="844" y="683">D</text>
<text class="ti" x="1280" y="737" textLength="228">Fiber-knob</text>
<text class="lb" style="font-size:19px" transform="translate(1121,762) rotate(-90)">HAdV-D71</text>
<text class="lb rd" style="font-size:19px" transform="translate(1136.5,765) rotate(-90)">HAdV-D116</text>
</g>

<g id="legend">
<rect x="617" y="515" width="66" height="23" fill="#9999ff"/>
<rect x="617" y="551.5" width="66" height="23" fill="#99cc99"/>
<rect x="617" y="587.5" width="66" height="23" fill="#ff9999"/>
<rect x="617" y="623.5" width="66" height="23" fill="#99ffff"/>
<rect x="617" y="659.5" width="66" height="23" fill="#ff99ff"/>
<rect x="617" y="695" width="66" height="23" fill="#ffff99"/>
<rect x="617" y="731" width="66" height="23" fill="#ffe1e6"/>
<text class="lg" x="695" y="535.5" textLength="115">HAdV-A</text>
<text class="lg" x="695" y="572" textLength="112">HAdV-B</text>
<text class="lg" x="695" y="608" textLength="113">HAdV-C</text>
<text class="lg" x="695" y="644" textLength="116">HAdV-D</text>
<text class="lg" x="695" y="680" textLength="109">HAdV-E</text>
<text class="lg" x="695" y="715.5" textLength="107">HAdV-F</text>
<text class="lg" x="695" y="751.5" textLength="116">HAdV-G</text>
</g>
</svg>
